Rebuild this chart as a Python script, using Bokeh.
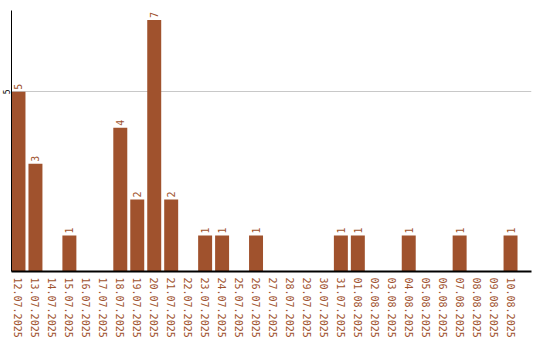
import math
from bokeh.plotting import figure
from bokeh.models import ColumnDataSource, FixedTicker, Range1d
from bokeh.core.properties import value
from bokeh.embed import file_html
from bokeh.resources import INLINE

dates = ["12.07.2025", "13.07.2025", "14.07.2025", "15.07.2025", "16.07.2025",
         "17.07.2025", "18.07.2025", "19.07.2025", "20.07.2025", "21.07.2025",
         "22.07.2025", "23.07.2025", "24.07.2025", "25.07.2025", "26.07.2025",
         "27.07.2025", "28.07.2025", "29.07.2025", "30.07.2025", "31.07.2025",
         "01.08.2025", "02.08.2025", "03.08.2025", "04.08.2025", "05.08.2025",
         "06.08.2025", "07.08.2025", "08.08.2025", "09.08.2025", "10.08.2025"]
counts = [5, 3, 0, 1, 0, 0, 4, 2, 7, 2, 0, 1, 1, 0, 1,
          0, 0, 0, 0, 1, 1, 0, 0, 1, 0, 0, 1, 0, 0, 1]
y_ticks = [5]

COLOR = "#a0522d"
FONT = "DejaVu Sans Mono"

xs = list(range(len(dates)))
src = ColumnDataSource(dict(x=xs, top=counts))
lab_idx = [i for i, c in enumerate(counts) if c > 0]
lab_src = ColumnDataSource(dict(x=[xs[i] for i in lab_idx],
                                y=[counts[i] for i in lab_idx],
                                label=[str(counts[i]) for i in lab_idx]))

p = figure(width=540, height=340, output_backend="svg", toolbar_location=None,
           x_range=Range1d(-7/17, 514/17), y_range=Range1d(0, 260/35.8),
           min_border_left=0, min_border_top=10, min_border_right=9,
           min_border_bottom=0)
p.outline_line_color = None
p.background_fill_color = "white"

p.vbar(x="x", top="top", width=14/17, bottom=0, source=src,
       fill_color=COLOR, line_color=None)
p.text(x="x", y="y", text="label", source=lab_src, angle=math.pi/2,
       text_align="left", text_baseline="middle", y_offset=-2,
       text_font=value(FONT), text_font_size="10px", text_color=COLOR)

p.xgrid.visible = False
p.ygrid.ticker = FixedTicker(ticks=y_ticks)
p.ygrid.grid_line_color = "#c8c8c8"

p.xaxis.ticker = FixedTicker(ticks=xs)
p.xaxis.major_label_overrides = {i: d for i, d in zip(xs, dates)}
p.xaxis.major_label_orientation = "vertical"
p.xaxis.major_label_text_font = FONT
p.xaxis.major_label_text_font_size = "10px"
p.xaxis.major_label_text_color = COLOR
p.xaxis.major_tick_line_color = None
p.xaxis.major_tick_out = 0
p.xaxis.major_tick_in = 0
p.xaxis.minor_tick_line_color = None
p.xaxis.minor_tick_out = 0
p.xaxis.major_label_standoff = 6
p.xaxis.axis_line_color = "black"
p.xaxis.axis_line_width = 2

p.yaxis.ticker = FixedTicker(ticks=y_ticks)
p.yaxis.major_label_orientation = "vertical"
p.yaxis.major_label_text_font = FONT
p.yaxis.major_label_text_font_size = "8px"
p.yaxis.major_label_text_color = "black"
p.yaxis.major_tick_line_color = None
p.yaxis.major_tick_out = 0
p.yaxis.major_tick_in = 0
p.yaxis.minor_tick_line_color = None
p.yaxis.minor_tick_out = 0
p.yaxis.major_label_standoff = 1
p.yaxis.axis_line_color = "black"

open("out.html", "w").write(file_html(p, INLINE))
